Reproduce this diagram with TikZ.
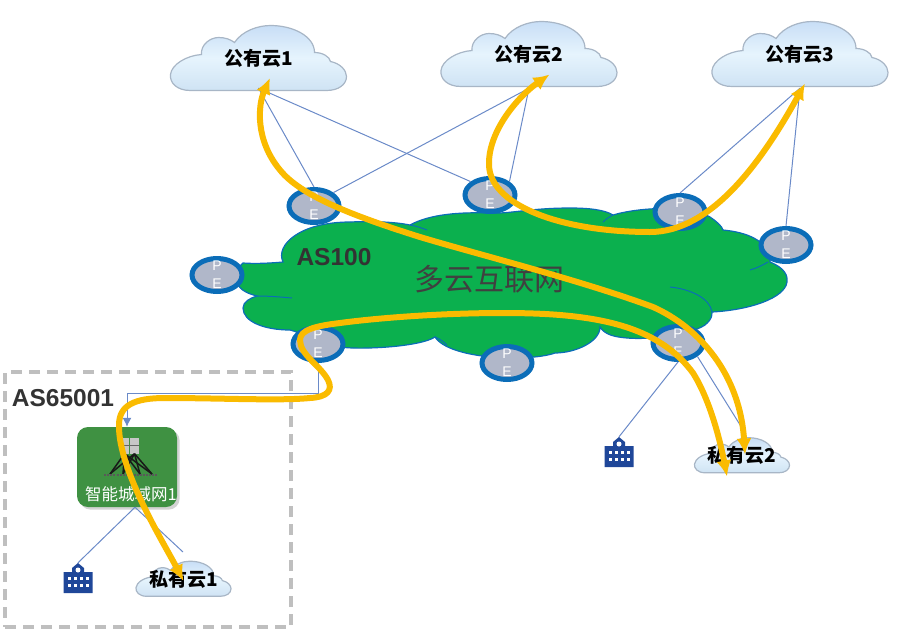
\documentclass[tikz,border=0pt]{standalone}
\usepackage{fontspec}
\setmainfont{Liberation Sans}
\newfontfamily\cjk{Noto Sans CJK SC}
\usepackage{xcolor}
\usepackage{tikz}
\usetikzlibrary{arrows.meta,positioning,shapes.geometric,shadows}
\definecolor{bluelink}{HTML}{6A8AC8}
\definecolor{peblue}{HTML}{0B6DB8}
\definecolor{pefill}{HTML}{B0B7C9}
\definecolor{netgreen}{HTML}{0BB04E}
\definecolor{routergreen}{HTML}{3F9142}
\definecolor{gold}{HTML}{FABB00}
\definecolor{navy}{HTML}{1F4799}
\definecolor{cloudtop}{HTML}{C8DEF6}
\definecolor{cloudmid}{HTML}{E6F4FD}
\definecolor{cloudlow}{HTML}{CFE3F4}
\definecolor{cloudline}{HTML}{A8B6C6}

\begin{document}
\begin{tikzpicture}[
  x=1pt,y=-1pt,
  cloudbody/.pic={
    \draw[draw=cloudline,line width=1.2pt,top color=cloudtop,bottom color=cloudlow,middle color=cloudmid]
      (-68,32) .. controls (-82,32) and (-89,24) .. (-88,16) .. controls (-87,6) and (-72,-3) .. (-57,-4)
      .. controls (-58,-14) and (-48,-21) .. (-40,-21) .. controls (-33,-21) and (-28,-19) .. (-24,-16)
      .. controls (-16,-28) and (0,-33) .. (12,-33) .. controls (35,-33) and (56,-22) .. (56,-6)
      .. controls (64,-6) and (71,-2) .. (72,3) .. controls (82,5) and (88,12) .. (88,18)
      .. controls (88,26) and (80,32) .. (68,32) -- cycle;
  },
  buildingicon/.pic={
    \fill[navy] (-14.5,15) -- (-14.5,-6) -- (-6,-6) -- (-6,-10) -- (0,-15) -- (6,-10) -- (6,-6) -- (14.5,-6) -- (14.5,15) -- cycle;
    \fill[white] (0,-8) circle (2.5);
    \foreach \px in {-9,-3,3,9} {\foreach \py in {0,7} {\fill[white] (\px-1.5,\py-1.5) rectangle (\px+1.5,\py+1.5);}}
  },
  cloudbig/.style={minimum width=177pt,minimum height=67pt,inner sep=0pt,font=\cjk\bfseries\fontsize{19}{21}\selectfont,text=black},
  cloudsmall/.style={minimum width=96pt,minimum height=49pt,inner sep=0pt,font=\cjk\bfseries\fontsize{19}{21}\selectfont,text=black},
  penode/.style={draw=peblue,ellipse,line width=5pt,fill=pefill,minimum width=50pt,minimum height=33pt,inner sep=-8pt,
    align=center,text=white,font=\fontsize{14}{18}\selectfont},
  routerbox/.style={rounded corners=11pt,fill=routergreen,minimum width=100pt,minimum height=80pt,drop shadow={opacity=.35}},
  towerbox/.style={fill=black!22,minimum width=9.5pt,minimum height=16pt,inner sep=0pt},
  link/.style={draw=bluelink,line width=1pt},
  flow/.style={{Latex[length=16pt,width=15pt]}-{Latex[length=16pt,width=15pt]},line width=6pt,color=gold},
  aslabel/.style={font=\bfseries\fontsize{24.5}{26}\selectfont,text=black!80},
  bldbox/.style={minimum width=29pt,minimum height=30pt,inner sep=0pt}
]
\useasboundingbox (0,0) rectangle (907,643);

% AS65001 frame
\node[draw=black!25,line width=3.5pt,dash pattern=on 11pt off 7pt,minimum width=286pt,minimum height=255pt,inner sep=0pt] (asframe) at (148,499.5) {};
\node[aslabel] (aslocal) at (63,398) {AS65001};

% backbone cloud
\draw[fill=netgreen,draw=peblue,line width=1.2pt]
  (243,263) .. controls (256,264) and (272,263) .. (283,262) .. controls (275,245) and (300,222) .. (350,222)
  .. controls (375,221) and (395,222) .. (410,225) .. controls (430,214) and (460,212) .. (490,213)
  .. controls (510,214) and (530,208) .. (570,208) .. controls (590,208) and (605,210) .. (613,215)
  .. controls (640,207) and (690,205) .. (710,217) .. controls (716,221) and (722,226) .. (723,230)
  .. controls (745,232) and (770,240) .. (770,262) .. controls (785,268) and (788,276) .. (787,282)
  .. controls (785,298) and (750,310) .. (712,312) .. controls (712,320) and (708,322) .. (705,325)
  .. controls (690,335) and (650,340) .. (627,338) .. controls (615,337) and (605,335) .. (600,327)
  .. controls (600,342) and (575,353) .. (555,353) .. controls (530,362) and (450,360) .. (435,337)
  .. controls (420,347) and (360,350) .. (340,347) .. controls (320,345) and (300,332) .. (290,330)
  .. controls (265,330) and (243,322) .. (243,308) .. controls (243,302) and (250,298) .. (257,296)
  .. controls (245,293) and (237,288) .. (237,280) .. controls (237,270) and (240,265) .. (243,263) -- cycle;
\draw[draw=peblue,line width=1pt] (257,296) .. controls (270,296) and (280,297) .. (292,298);
\draw[draw=peblue,line width=1pt] (410,225) .. controls (416,226) and (422,228) .. (427,230);
\draw[draw=peblue,line width=1pt] (435,337) .. controls (440,339) and (444,342) .. (447,345);
\draw[draw=peblue,line width=1pt] (670,287) .. controls (690,289) and (710,298) .. (712,312);
\draw[draw=peblue,line width=1pt] (750,270) .. controls (757,268) and (763,265) .. (768,262);
\draw[draw=peblue,line width=1pt] (613,215) .. controls (609,217) and (606,219) .. (603,222);
\node[aslabel] (asback) at (334,257) {AS100};
\node[font=\cjk\fontsize{30}{32}\selectfont,text=black!75] (netname) at (489,279) {多云互联网};

% clouds
\pic at (258.5,58.5) {cloudbody};
\pic at (529,54.5) {cloudbody};
\pic at (800,54.5) {cloudbody};
\pic[scale=.54] at (183.5,579) {cloudbody};
\pic[scale=.54] at (742,455.5) {cloudbody};
\node[cloudbig] (pubA) at (258.5,58.5) {公有云1};
\node[cloudbig] (pubB) at (529,54.5) {公有云2};
\node[cloudbig] (pubC) at (800,54.5) {公有云3};
\node[cloudsmall] (privA) at (183.5,579) {私有云1};
\node[cloudsmall] (privB) at (742,455.5) {私有云2};

% router box with its tree icon
\node[routerbox] (router) at (127,467) {};
\node[font=\cjk\fontsize{16.5}{18}\selectfont,text=white] (routername) at (131,494) {智能城域网1};
\node[towerbox] (towerA) at (124.5,445.5) {};
\node[towerbox] (towerB) at (134.5,445.5) {};
\draw[black!60,line width=1pt] (towerA.west) -- (towerB.east);
\foreach \tx in {110,123,140,152} {
  \draw[black!90,line width=1.5pt] (towerA.south) -- (\tx,474);
  \draw[black!90,line width=1.5pt] (towerB.south) -- (\tx,474);
  \draw[black!65,line width=2.5pt,dash pattern=on 2pt off 1pt] (\tx-6,475) -- (\tx+6,475);
}

% buildings
\pic at (78,578) {buildingicon};
\pic at (619,452) {buildingicon};
\node[bldbox] (bldA) at (78,578) {};
\node[bldbox] (bldB) at (619,452) {};

% PE routers
\node[penode] (peA) at (314,206) {P\\E};
\node[penode] (peB) at (490,195) {P\\E};
\node[penode] (peC) at (680,212) {P\\E};
\node[penode] (peD) at (786,245) {P\\E};
\node[penode] (peE) at (217,275) {P\\E};
\node[penode] (peF) at (318,344) {P\\E};
\node[penode] (peG) at (507,363) {P\\E};
\node[penode] (peH) at (678,343) {P\\E};

% thin links
\draw[link] ([yshift=4pt]pubA.south) -- (peA.north);
\draw[link] ([yshift=4pt]pubA.south) -- (peB.north west);
\draw[link] (pubB.south) -- (peA.north east);
\draw[link] (pubB.south) -- (peB.north east);
\draw[link] (pubC.south) -- (peC.north);
\draw[link] (pubC.south) -- (peD.north);
\draw[link,-{Latex[length=9pt,width=9pt]}] (peF.south) -- (318,393.5) -| (router.north);
\draw[link] ([xshift=8pt]router.south) -- (bldA.north);
\draw[link] ([xshift=8pt]router.south) -- (183,552);
\draw[link] (peH.south) -- (bldB.north);
\draw[link] (peH.south east) -- (742,428);

% traffic paths
\coordinate (tipPubA) at ([shift={(11.5,19.5)}]pubA.center);
\coordinate (tipPubB) at ([shift={(20.5,20)}]pubB.center);
\coordinate (tipPubC) at ([shift={(5,29)}]pubC.center);
\coordinate (tipPrivA) at ([shift={(0,2)}]privA.center);
\coordinate (tipPrivB) at ([shift={(3,-1)}]privB.center);
\coordinate (tipPrivBlow) at ([shift={(-15,21)}]privB.center);
\draw[flow] (tipPubA) .. controls (258,105) and (255,140) .. (280,170) .. controls (300,195) and (350,215) .. (420,237)
  .. controls (480,255) and (580,280) .. (653,307) .. controls (700,328) and (740,375) .. (tipPrivB);
\draw[flow] (tipPubB) .. controls (520,95) and (488,130) .. (489,165) .. controls (490,205) and (560,232) .. (650,232)
  .. controls (710,232) and (760,165) .. (tipPubC);
\draw[flow] (tipPrivA) .. controls (165,545) and (118,470) .. (119,425) .. controls (119,405) and (135,398) .. (165,398)
  .. controls (220,398) and (280,401) .. (310,398) .. controls (328,397) and (333,390) .. (328,380)
  .. controls (320,365) and (300,355) .. (300,340) .. controls (300,330) and (315,326) .. (340,323)
  .. controls (400,315) and (500,310) .. (560,315) .. controls (620,320) and (665,335) .. (693,373)
  .. controls (710,400) and (720,440) .. (tipPrivBlow);
\end{tikzpicture}
\end{document}
